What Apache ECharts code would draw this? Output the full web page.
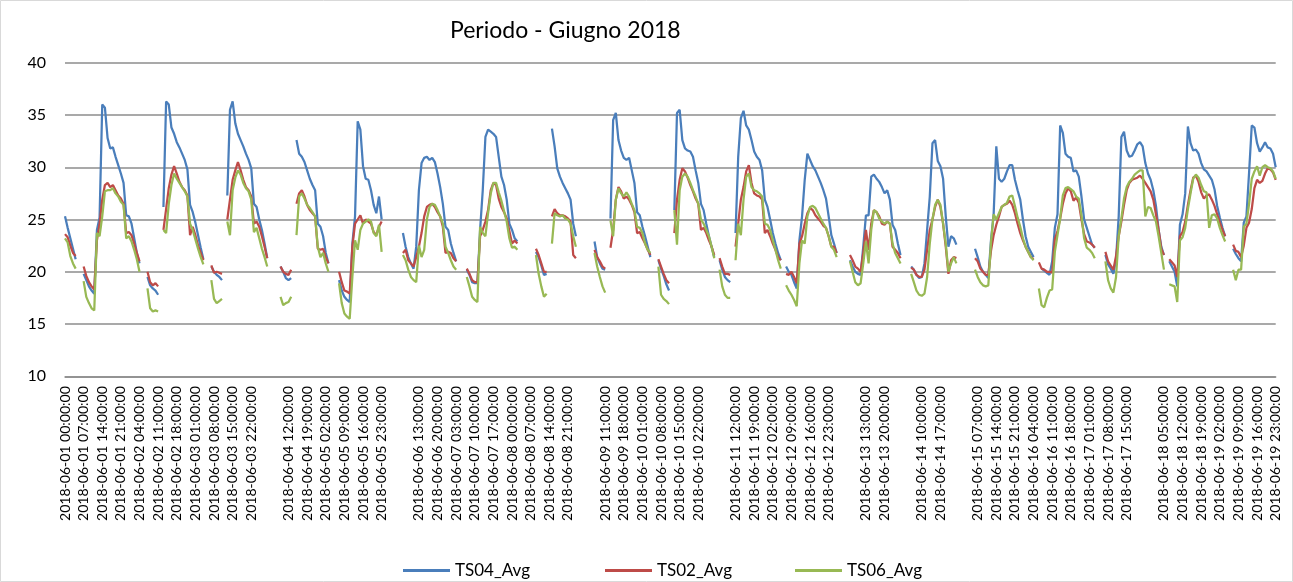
<!DOCTYPE html>
<html>
<head>
    <meta charset="utf-8">
    <title>Periodo - Giugno 2018</title>
    <script src="https://cdn.jsdelivr.net/npm/echarts@6/dist/echarts.min.js"></script>
    <style type="text/css">
        html, body { margin: 0; padding: 0; background: #fff; }
        #chart1 { width: 1293px; height: 582px; }
    </style>
</head>
<body>
<div id="chart1"></div>
<script type="text/javascript">
    var _ = null; // ora senza dati

    // TS04_Avg, un giorno per riga (00:00 .. 23:00)
    var ts04 = [
        25.3,24.2,23.2,22.2,21.2,_,_,19.8,19.2,18.6,18.2,17.9,24.0,25.2,36.0,35.7,32.8,31.8,31.9,31.0,30.2,29.4,28.5,25.4,
        25.3,24.6,23.2,21.8,20.8,_,_,19.5,18.7,18.4,18.2,17.8,_,26.2,36.3,36.0,33.8,33.2,32.4,31.9,31.3,30.7,29.8,26.4,
        25.7,24.7,23.5,22.3,21.2,_,_,20.5,20.0,19.7,19.5,19.2,_,27.3,35.5,36.3,34.2,33.2,32.6,32.0,31.3,30.7,29.9,26.5,
        26.2,25.0,24.0,22.7,21.3,_,_,_,_,20.5,20.0,19.4,19.2,19.4,_,32.6,31.3,31.0,30.5,29.7,28.9,28.3,27.8,24.6,
        24.3,23.4,21.8,20.8,_,_,_,19.2,18.2,17.6,17.3,17.1,22.7,25.3,34.4,33.6,30.1,28.9,28.8,27.8,26.4,25.6,27.2,25.0,
        _,_,_,_,_,_,_,23.7,22.4,21.4,20.8,20.3,22.4,27.8,30.4,30.9,31.0,30.7,30.9,30.5,29.4,28.1,26.5,24.3,
        24.0,22.7,21.8,21.0,_,_,_,20.2,19.7,19.0,18.9,18.9,24.0,27.8,32.9,33.6,33.4,33.2,32.9,31.0,29.1,28.3,26.9,24.6,
        24.0,23.2,22.9,_,_,_,_,_,_,21.9,21.4,20.6,19.7,19.8,_,33.7,32.0,29.9,29.1,28.5,28.0,27.5,26.9,24.6,
        23.4,_,_,_,_,_,_,22.9,21.4,20.8,20.3,20.2,_,25.1,34.5,35.2,32.6,31.6,30.9,30.7,30.9,29.7,28.5,25.7,
        25.4,24.3,23.4,22.4,21.4,_,_,21.1,20.3,19.6,18.8,18.2,_,25.9,35.2,35.5,32.6,31.8,31.6,31.5,31.0,29.7,28.5,26.5,
        25.9,24.6,23.4,22.4,21.4,_,21.1,20.2,19.5,19.2,19.0,_,23.7,31.0,34.7,35.4,34.0,33.6,32.6,31.5,31.0,30.7,29.7,26.9,
        26.2,25.0,23.7,22.7,21.8,21.1,_,20.5,20.0,19.7,19.0,18.4,23.0,25.3,28.8,31.3,30.7,30.1,29.7,29.1,28.5,27.8,27.0,25.3,
        23.5,22.7,21.8,_,_,_,_,21.1,20.5,20.0,19.8,19.7,22.4,25.4,25.4,29.1,29.3,28.9,28.6,28.1,27.5,27.8,26.9,24.5,
        24.0,22.7,21.6,_,_,_,20.5,20.2,19.7,19.4,19.5,20.8,24.0,27.2,32.3,32.6,30.6,30.1,28.9,25.3,22.4,23.4,23.2,22.6,
        _,_,_,_,_,_,22.2,21.4,20.5,20.0,19.7,19.4,23.0,25.5,32.0,28.9,28.6,28.9,29.6,30.2,30.2,28.8,27.8,26.9,
        25.0,23.4,22.4,21.9,21.4,_,_,20.3,20.1,19.9,19.7,21.0,24.2,25.5,34.0,33.3,31.3,31.0,30.9,29.6,29.7,29.1,27.2,25.0,
        24.2,23.4,22.6,22.3,_,_,_,21.6,20.7,20.3,19.8,21.2,25.3,32.9,33.4,31.6,31.0,31.1,31.6,32.2,32.4,32.0,30.4,29.4,
        28.8,27.8,26.3,24.0,22.4,21.6,_,21.0,20.5,20.0,18.6,24.5,25.5,27.5,33.9,32.3,31.6,31.7,31.3,30.4,29.8,29.6,29.2,28.8,
        27.9,26.3,25.2,24.2,23.4,_,_,22.2,21.7,21.3,21.0,24.7,25.3,29.5,34.0,33.8,32.3,31.5,31.9,32.4,31.9,31.8,31.3,30.0
    ];

    // TS02_Avg
    var ts02 = [
        23.6,23.3,22.5,21.8,21.5,_,_,20.5,19.6,19.0,18.6,18.3,23.0,24.6,26.9,28.3,28.5,28.1,28.3,27.8,27.3,27.0,26.5,23.7,
        23.8,23.5,22.7,21.8,21.0,_,_,20.0,19.0,18.7,18.9,18.6,_,24.0,26.0,28.0,29.3,30.1,29.4,28.6,28.1,27.8,27.3,23.5,
        24.3,23.5,22.5,21.8,21.1,_,_,20.6,19.9,20.0,19.9,19.8,_,25.0,26.9,28.8,29.7,30.5,29.7,28.8,28.1,27.8,27.2,24.6,
        24.8,24.3,23.4,22.4,21.3,_,_,_,_,20.5,20.0,19.8,19.7,20.2,_,26.5,27.5,27.8,27.2,26.4,25.9,25.6,25.3,22.2,
        22.1,22.2,21.4,20.8,_,_,_,20.0,19.0,18.2,18.1,17.9,22.4,24.6,25.0,25.4,24.6,25.0,24.8,24.6,23.8,23.5,24.3,24.8,
        _,_,_,_,_,_,_,21.8,22.1,21.1,20.8,20.5,21.4,22.4,23.7,25.3,26.2,26.4,26.5,26.2,25.7,25.3,24.3,21.8,
        21.9,21.8,21.3,21.0,_,_,_,20.3,19.8,19.2,19.0,19.0,23.4,24.0,24.8,25.9,27.8,28.5,28.3,27.0,26.2,25.7,25.1,23.9,
        22.7,23.0,22.7,_,_,_,_,_,_,22.2,21.6,20.8,20.0,20.0,_,25.3,26.0,25.6,25.4,25.4,25.3,25.1,24.8,21.6,
        21.3,_,_,_,_,_,_,22.1,21.4,21.0,20.5,20.3,_,22.3,24.0,26.9,28.1,27.7,27.0,27.2,26.9,26.4,25.7,23.7,
        23.8,23.2,22.7,22.1,21.6,_,_,21.2,20.5,19.8,19.2,18.9,_,23.7,26.9,28.8,29.9,29.6,29.0,28.3,27.7,27.0,26.5,24.0,
        24.2,23.7,23.0,22.4,21.6,_,21.3,20.5,19.8,19.8,19.7,_,22.4,24.6,26.9,28.1,29.6,30.2,28.5,27.5,27.3,27.2,26.9,23.7,
        24.0,23.4,22.7,22.1,21.4,21.1,_,19.8,19.7,20.0,19.5,18.9,22.7,23.4,24.6,25.6,26.1,25.9,25.4,25.1,24.8,24.4,24.2,23.4,
        22.4,22.4,21.8,_,_,_,_,21.6,21.1,20.5,20.3,20.0,21.8,24.0,22.1,24.6,25.9,25.7,25.3,24.6,24.5,24.8,24.6,22.4,
        22.1,21.8,21.3,_,_,_,20.4,20.2,19.7,19.5,19.5,20.2,22.1,24.0,25.0,26.2,26.9,26.2,24.6,22.4,19.8,21.1,21.4,21.3,
        _,_,_,_,_,_,21.3,21.0,20.3,20.0,19.7,19.7,22.0,23.5,24.5,25.3,26.2,26.4,26.5,26.8,26.4,25.6,24.6,23.7,
        23.0,22.4,21.9,21.4,21.2,_,20.9,20.3,20.2,20.0,20.0,19.9,23.1,23.9,25.1,26.5,27.5,28.0,27.7,26.8,27.1,26.6,25.0,23.6,
        22.9,22.8,22.6,22.3,_,_,_,21.9,21.0,20.6,20.2,21.5,23.4,24.8,26.4,27.8,28.5,28.8,28.9,29.0,29.2,28.9,28.5,28.1,
        27.7,26.9,25.5,24.0,22.2,21.6,_,21.2,20.9,20.6,19.5,23.4,23.8,24.8,26.4,27.8,29.0,29.2,28.6,27.6,27.0,27.3,27.4,26.9,
        26.3,25.5,24.7,24.0,23.4,_,_,22.6,22.0,21.9,21.4,22.5,24.2,24.7,26.0,28.0,28.8,28.5,28.7,29.4,29.9,29.8,29.5,28.8
    ];

    // TS06_Avg
    var ts06 = [
        23.2,22.8,21.5,20.8,20.3,_,_,19.1,17.6,17.0,16.5,16.3,23.7,23.4,25.3,27.7,27.8,27.8,28.0,27.5,27.2,26.7,26.4,23.2,
        23.4,22.9,22.1,21.2,20.0,_,_,18.4,16.5,16.2,16.3,16.2,_,24.0,23.7,26.5,28.3,29.4,28.9,28.5,28.1,27.7,27.2,24.6,
        24.0,23.1,22.2,21.4,20.7,_,_,19.2,17.4,17.0,17.2,17.4,_,24.8,23.5,27.8,29.0,29.7,29.3,28.5,28.0,27.7,26.9,23.8,
        24.2,23.2,22.2,21.4,20.5,_,_,_,_,17.6,16.8,17.0,17.1,17.6,_,23.5,27.2,27.5,27.0,26.4,26.1,25.7,25.3,22.4,
        21.4,21.8,20.8,20.0,_,_,_,18.9,17.0,16.0,15.7,15.5,19.5,23.0,22.1,24.0,24.6,24.8,25.0,24.8,23.7,23.4,24.5,21.9,
        _,_,_,_,_,_,_,21.6,21.1,20.2,19.5,19.2,19.0,22.5,21.4,22.1,25.0,26.2,26.5,26.4,25.9,25.3,24.6,22.4,
        21.8,21.1,20.5,20.2,_,_,_,19.5,18.6,17.6,17.3,17.1,24.3,23.7,23.4,25.6,27.5,28.5,28.5,27.6,26.8,25.8,24.8,23.2,
        22.3,22.4,22.1,_,_,_,_,_,_,21.6,19.8,18.6,17.6,17.9,_,22.7,25.6,25.4,25.3,25.4,25.1,25.0,24.6,23.4,
        22.4,_,_,_,_,_,_,21.8,20.5,19.5,18.6,18.0,_,24.9,23.4,26.9,28.0,27.5,27.2,27.6,27.2,26.5,25.9,24.3,
        24.2,23.7,22.7,22.1,21.8,_,_,20.5,17.8,17.4,17.2,16.9,_,25.9,22.6,27.8,29.1,29.4,29.1,28.5,27.8,27.2,26.5,25.0,
        24.6,24.0,23.4,22.4,21.3,_,20.2,18.6,17.8,17.5,17.5,_,21.1,24.6,23.5,26.9,29.1,29.4,28.1,27.8,27.7,27.5,27.2,24.6,
        24.5,24.0,23.0,22.1,21.1,20.3,_,18.7,18.2,17.8,17.3,16.7,20.8,23.0,22.7,25.3,26.2,26.3,26.1,25.6,25.1,24.6,24.2,23.4,
        22.4,22.1,21.4,_,_,_,_,21.0,20.0,19.0,18.7,18.9,20.8,22.9,20.8,24.0,25.9,25.7,25.1,24.8,24.6,24.8,24.6,22.7,
        21.8,21.3,20.8,_,_,_,19.8,19.0,18.2,17.8,17.7,17.9,19.5,22.7,25.0,26.4,26.9,26.4,24.6,22.7,20.0,20.8,21.4,20.8,
        _,_,_,_,_,_,20.2,19.5,19.0,18.7,18.6,18.7,22.8,25.5,25.0,25.6,26.2,26.4,26.6,27.2,27.3,26.3,25.2,24.3,
        23.2,22.4,21.9,21.4,21.1,_,18.4,16.8,16.6,17.5,18.2,18.3,21.9,23.5,25.1,27.3,28.0,28.1,27.9,27.7,27.2,27.0,25.4,23.2,
        22.3,22.1,21.8,21.3,_,_,_,21.0,19.2,18.4,18.0,19.5,23.4,25.1,27.0,28.1,28.6,28.9,29.3,29.5,29.7,29.7,25.3,26.2,
        26.1,25.4,24.8,23.4,21.8,20.2,_,18.8,18.7,18.6,17.1,23.0,23.3,24.2,26.0,27.5,28.9,29.3,29.0,28.3,27.7,27.6,24.2,25.4,
        25.5,25.1,24.2,23.5,22.9,_,_,20.2,19.2,20.2,20.2,24.3,24.6,26.5,28.9,29.6,30.1,29.2,30.0,30.2,30.0,29.9,29.6,28.9
    ];

    // righe senza etichetta sull'asse (data mancante nel foglio)
    var blankLabelRows = [77, 126, 196, 245, 294, 315, 336, 406];

    function pad(n) { return n < 10 ? '0' + n : '' + n; }
    var categories = [];
    for (var d = 1; d <= 19; d++) {
        for (var h = 0; h < 24; h++) {
            categories.push('2018-06-' + pad(d) + ' ' + pad(h) + ':00:00');
        }
    }

    var font = 'Lato, "DejaVu Sans", sans-serif';
    var myChart1 = echarts.init(document.getElementById('chart1'));

    function legendItem(name, left) {
        return {
            data: [name],
            left: left,
            top: 557,
            icon: 'rect',
            itemWidth: 47,
            itemHeight: 3,
            itemGap: 0,
            textStyle: { fontFamily: font, fontSize: 17, color: '#000' }
        };
    }

    function lineSeries(name, data, color) {
        return {
            name: name,
            type: 'line',
            data: data,
            symbol: 'none',
            connectNulls: false,
            lineStyle: { color: color, width: 2.25 },
            itemStyle: { color: color }
        };
    }

    myChart1.setOption({
        animation: false,
        backgroundColor: '#fff',
        title: {
            text: 'Periodo - Giugno 2018',
            left: 445,
            top: 14,
            textStyle: { fontFamily: font, fontSize: 23, fontWeight: 'normal', color: '#000' }
        },
        legend: [
            legendItem('TS04_Avg', 398),
            legendItem('TS02_Avg', 600),
            legendItem('TS06_Avg', 790)
        ],
        grid: {
            left: 65,
            right: 17.3,
            top: 62.75,
            bottom: 205.75,
            outerBoundsMode: 'none'
        },
        xAxis: {
            type: 'category',
            data: categories,
            boundaryGap: false,
            axisLine: { show: true, lineStyle: { color: '#8c8c8c', width: 1.5 } },
            axisTick: { show: false },
            splitLine: { show: false },
            axisLabel: {
                interval: 6,
                rotate: 90,
                margin: 10,
                fontFamily: font,
                fontSize: 14,
                color: '#000',
                formatter: function (value, index) {
                    return blankLabelRows.indexOf(index) >= 0 ? '' : value;
                }
            }
        },
        yAxis: {
            type: 'value',
            min: 10,
            max: 40,
            interval: 5,
            axisLine: { show: false },
            axisTick: { show: false },
            splitLine: { lineStyle: { color: '#8c8c8c', width: 1.5 } },
            axisLabel: { fontFamily: font, fontSize: 16, color: '#000', margin: 19 }
        },
        graphic: [{
            type: 'rect',
            shape: { x: 0.5, y: 0.5, width: 1292, height: 581 },
            style: { fill: 'none', stroke: '#d9d9d9', lineWidth: 1 },
            silent: true
        }],
        series: [
            lineSeries('TS04_Avg', ts04, '#4a7ebb'),
            lineSeries('TS02_Avg', ts02, '#be4b48'),
            lineSeries('TS06_Avg', ts06, '#98b954')
        ]
    });
</script>
</body>
</html>
